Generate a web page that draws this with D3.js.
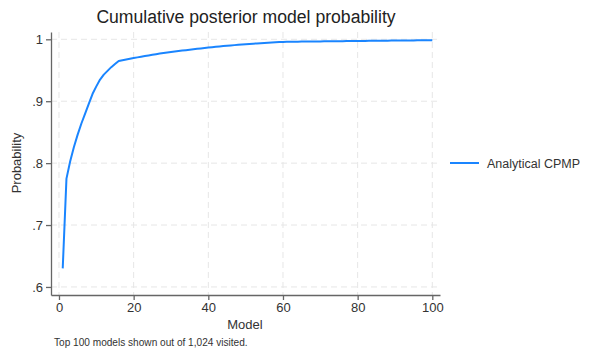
<!DOCTYPE html>
<html><head><meta charset="utf-8">
<script src="https://cdn.jsdelivr.net/npm/d3@7"></script>
<style>body{margin:0;background:#fff}svg{display:block;font-family:"Liberation Sans",Arial,sans-serif}</style>
</head><body>
<script>
const cpmp = [0.630,0.775,0.803,0.826,0.846,0.864,0.880,0.896,0.912,0.924,
0.935,0.943,0.949,0.955,0.960,0.965,0.9662,0.9674,0.9686,0.9697,
0.9708,0.9719,0.9730,0.9740,0.9750,0.9760,0.9769,0.9778,0.9786,0.9794,
0.9802,0.9810,0.9818,0.9825,0.9832,0.9839,0.9846,0.9853,0.9860,0.9866,
0.9872,0.9878,0.9884,0.9890,0.9896,0.9901,0.9906,0.9911,0.9916,0.9921,
0.9926,0.9930,0.9934,0.9938,0.9942,0.9946,0.9950,0.9953,0.9956,0.9958,
0.9960,0.9961,0.9962,0.9962,0.9963,0.9964,0.9964,0.9965,0.9966,0.9966,
0.9967,0.9968,0.9968,0.9969,0.9970,0.9970,0.9971,0.9972,0.9972,0.9973,
0.9974,0.9974,0.9975,0.9976,0.9976,0.9977,0.9978,0.9978,0.9979,0.9980,
0.9980,0.9981,0.9981,0.9982,0.9982,0.9983,0.9983,0.9984,0.9984,0.9985];
const models = d3.range(1, cpmp.length + 1);
const xTicks = [0,20,40,60,80,100];
const yTicks = [0.6,0.7,0.8,0.9,1];
const yTickLabels = [".6",".7",".8",".9","1"];
const seriesName = "Analytical CPMP";

const W=600,H=359;
const svg=d3.select("body").append("svg").attr("width",W).attr("height",H);
const L=51,R=440,T=32,B=295;
const x=d3.scaleLinear().domain([-2.14,102.06]).range([L,R]);
const y=d3.scaleLinear().domain([0.587,1.0118]).range([B,T]);

// grid
const g=svg.append("g");
g.selectAll(".vg").data(xTicks).enter().append("line")
 .attr("x1",d=>x(d)).attr("x2",d=>x(d)).attr("y1",T).attr("y2",B)
 .attr("stroke","#e6e6e6").attr("stroke-width",1).attr("stroke-dasharray","6,4");
g.selectAll(".hg").data(yTicks).enter().append("line")
 .attr("x1",L).attr("x2",R).attr("y1",d=>y(d)).attr("y2",d=>y(d))
 .attr("stroke","#e6e6e6").attr("stroke-width",1).attr("stroke-dasharray","6,4");

// axes
const xa=svg.append("g").attr("transform",`translate(0,${B})`)
 .call(d3.axisBottom(x).tickValues(xTicks).tickSize(5).tickPadding(3).tickSizeOuter(0));
const ya=svg.append("g").attr("transform",`translate(${L},0)`)
 .call(d3.axisLeft(y).tickValues(yTicks).tickFormat((d,i)=>yTickLabels[i]).tickSize(5).tickPadding(3).tickSizeOuter(0));
[xa,ya].forEach(a=>{
 a.select(".domain").attr("stroke","#666").attr("stroke-width",1.3);
 a.selectAll(".tick line").attr("stroke","#666").attr("stroke-width",1.3);
 a.selectAll("text").attr("font-size",13).attr("fill","#333").attr("font-family","Liberation Sans, Arial, sans-serif");
});

// line
svg.append("path").datum(models)
 .attr("fill","none").attr("stroke","#1a85ff").attr("stroke-width",2)
 .attr("stroke-linejoin","round")
 .attr("d",d3.line().x(d=>x(d)).y((d,i)=>y(cpmp[i])));

// titles
svg.append("text").attr("x",246).attr("y",23).attr("text-anchor","middle")
 .attr("font-size",17.6).attr("fill","#222").text("Cumulative posterior model probability");
svg.append("text").attr("x",245).attr("y",329).attr("text-anchor","middle")
 .attr("font-size",13).attr("fill","#333").text("Model");
svg.append("text").attr("transform","translate(21,163) rotate(-90)").attr("text-anchor","middle")
 .attr("font-size",13).attr("fill","#333").text("Probability");
svg.append("text").attr("x",54).attr("y",346)
 .attr("font-size",10.1).attr("fill","#333").text("Top 100 models shown out of 1,024 visited.");

// legend
svg.append("line").attr("x1",450).attr("x2",479).attr("y1",163).attr("y2",163)
 .attr("stroke","#1a85ff").attr("stroke-width",2);
svg.append("text").attr("x",487).attr("y",167.5).attr("font-size",12.5).attr("fill","#333").text(seriesName);
</script>
</body></html>
